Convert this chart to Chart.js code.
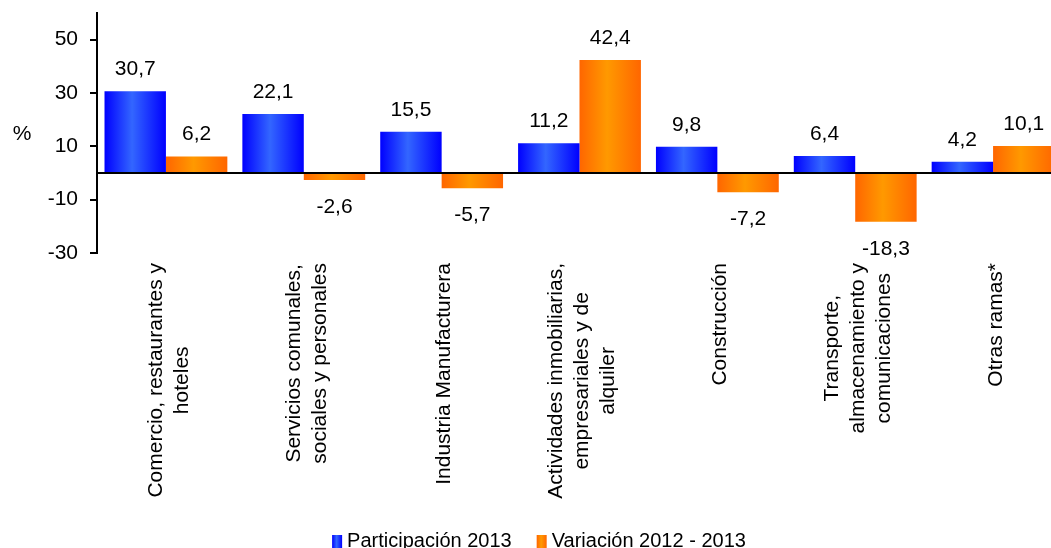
<!DOCTYPE html>
<html>
<head>
<meta charset="utf-8">
<script src="https://cdn.jsdelivr.net/npm/chart.js@4.4.1/dist/chart.umd.min.js"></script>
<style>
  html, body { margin: 0; padding: 0; overflow: hidden; background: #fff; }
  #chart-area { display: block; }
</style>
</head>
<body>
<canvas id="chart-area" width="1062" height="548"></canvas>
<script>
var categories = [
  ['Comercio, restaurantes y', 'hoteles'],
  ['Servicios comunales,', 'sociales y personales'],
  ['Industria Manufacturera'],
  ['Actividades inmobiliarias,', 'empresariales y de', 'alquiler'],
  ['Construcción'],
  ['Transporte,', 'almacenamiento y', 'comunicaciones'],
  ['Otras ramas*']
];
var participacion = [30.7, 22.1, 15.5, 11.2, 9.8, 6.4, 4.2];
var variacion = [6.2, -2.6, -5.7, 42.4, -7.2, -18.3, 10.1];
var yTicks = [-30, -10, 10, 30, 50];

var FONT = '"Liberation Sans", Arial, sans-serif';
var blueStops = ['#0000FF', '#3366FF', '#0000FF'];
var orangeStops = ['#FF6600', '#FF9900', '#FF6600'];

function fmt(v) {
  return v.toFixed(1).replace('.', ',');
}

function barGradient(ctx, left, width, stops) {
  var g = ctx.createLinearGradient(left, 0, left + width, 0);
  g.addColorStop(0, stops[0]);
  g.addColorStop(0.45, stops[1]);
  g.addColorStop(1, stops[2]);
  return g;
}

// gradient fill on each bar, horizontal like the original
var gradientBars = {
  id: 'gradientBars',
  beforeDatasetsDraw: function(chart) {
    var ctx = chart.ctx;
    chart.data.datasets.forEach(function(ds, di) {
      var meta = chart.getDatasetMeta(di);
      meta.data.forEach(function(el) {
        var left = el.x - el.width / 2;
        el.options = Object.assign({}, el.options, {
          backgroundColor: barGradient(ctx, left, el.width, ds.stops)
        });
      });
    });
  }
};

var extras = {
  id: 'extras',
  afterDatasetsDraw: function(chart) {
    var ctx = chart.ctx;
    var area = chart.chartArea;
    var y = chart.scales.y;
    var x = chart.scales.x;

    // zero line
    var y0 = y.getPixelForValue(0);
    ctx.save();
    ctx.strokeStyle = '#000';
    ctx.lineWidth = 2;
    ctx.beginPath();
    ctx.moveTo(area.left, y0);
    ctx.lineTo(chart.width, y0);
    ctx.stroke();

    // value labels
    ctx.fillStyle = '#000';
    ctx.font = '21px ' + FONT;
    ctx.textAlign = 'center';
    ctx.textBaseline = 'alphabetic';
    chart.data.datasets.forEach(function(ds, di) {
      var meta = chart.getDatasetMeta(di);
      meta.data.forEach(function(el, i) {
        var v = ds.data[i];
        var ty = v >= 0 ? el.y - 16 : el.y + 33;
        ctx.fillText(fmt(v), el.x, ty);
      });
    });

    // category labels, rotated, lines centred on each other
    categories.forEach(function(lines, i) {
      var cx = x.getPixelForValue(i) + 3;
      var maxW = 0;
      lines.forEach(function(l) { maxW = Math.max(maxW, ctx.measureText(l).width); });
      var cy = area.bottom + 10 + maxW / 2;
      ctx.save();
      ctx.translate(cx, cy);
      ctx.rotate(-Math.PI / 2);
      ctx.textAlign = 'center';
      ctx.textBaseline = 'middle';
      lines.forEach(function(l, j) {
        ctx.fillText(l, 0, (j - (lines.length - 1) / 2) * 26);
      });
      ctx.restore();
    });

    // % title
    ctx.textAlign = 'center';
    ctx.textBaseline = 'middle';
    ctx.fillText('%', 22, y.getPixelForValue(14.5));

    // legend
    ctx.font = '20px ' + FONT;
    var items = chart.data.datasets;
    var box = 10, gap = 5, spacing = 25;
    var total = 0;
    items.forEach(function(ds, k) {
      total += box + gap + ctx.measureText(ds.label).width + (k > 0 ? spacing : 0);
    });
    var lx = chart.width / 2 + 8 - total / 2;
    var ly = 541;
    ctx.textAlign = 'left';
    items.forEach(function(ds) {
      ctx.fillStyle = barGradient(ctx, lx, box, ds.stops);
      ctx.fillRect(lx, ly - 6, box, 14);
      ctx.fillStyle = '#000';
      ctx.fillText(ds.label, lx + box + gap, ly);
      lx += box + gap + ctx.measureText(ds.label).width + spacing;
    });
    ctx.restore();
  }
};

function getConfig() {
  var config = {
    type: 'bar',
    data: {
      labels: categories,
      datasets: [{
        label: 'Participación 2013',
        data: participacion,
        backgroundColor: '#1a33ff',
        stops: blueStops
      }, {
        label: 'Variación 2012 - 2013',
        data: variacion,
        backgroundColor: '#ff8000',
        stops: orangeStops
      }]
    },
    options: {
      responsive: false,
      animation: false,
      layout: { padding: { top: 13, left: 0, right: 0, bottom: 0 } },
      datasets: {
        bar: { categoryPercentage: 0.891, barPercentage: 1, borderWidth: 0 }
      },
      plugins: {
        legend: { display: false },
        tooltip: { enabled: false }
      },
      scales: {
        x: {
          ticks: { display: false },
          grid: { display: false },
          border: { display: false },
          afterFit: function(scale) {
            scale.height = 295;
            scale.paddingLeft = 0;
            scale.paddingRight = 0;
          }
        },
        y: {
          min: -30,
          max: 60,
          afterBuildTicks: function(scale) {
            scale.ticks = yTicks.map(function(v) { return { value: v }; });
          },
          afterFit: function(scale) {
            scale.width = 97;
            scale.paddingTop = 0;
            scale.paddingBottom = 0;
          },
          ticks: {
            color: '#000',
            padding: 12,
            font: { family: FONT, size: 21 },
            callback: function(v) { return v; }
          },
          grid: {
            drawOnChartArea: false,
            drawTicks: true,
            tickLength: 7,
            color: '#000',
            lineWidth: 2
          },
          border: { display: true, color: '#000', width: 2 }
        }
      }
    },
    plugins: [gradientBars, extras]
  };
  return config;
}

var ctx = document.getElementById('chart-area').getContext('2d');
window.myBar = new Chart(ctx, getConfig());
</script>
</body>
</html>
